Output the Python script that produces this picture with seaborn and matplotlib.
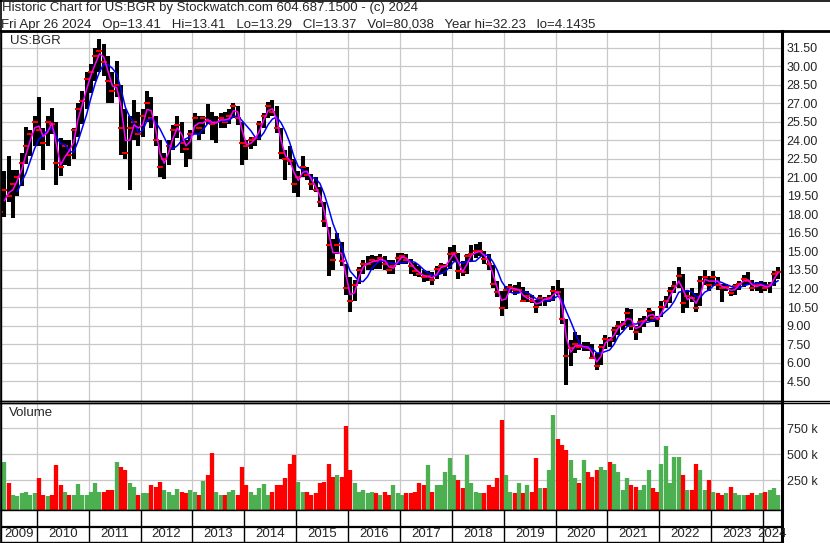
import numpy as np
import pandas as pd
import matplotlib
matplotlib.use("Agg")
import matplotlib.pyplot as plt
from matplotlib.lines import Line2D
import seaborn as sns

# ── Monthly OHLC (Apr 2009 .. Apr 2024) ──────────────────────────────────────
FIRST_MONTH = "2009-04"

HIGH = [
    19.6, 21.5, 22.7, 21.6, 21.6, 23.0, 25.1, 24.8, 26.0,                    # 2009
    27.5, 25.0, 26.0, 26.6, 25.5, 24.2, 24.0, 24.0, 25.0, 27.0, 28.0, 29.5,  # 2010
    30.2, 31.5, 32.2, 31.8, 30.8, 29.5, 30.4, 28.5, 26.5, 26.0, 27.3, 26.3,  # 2011
    26.5, 28.0, 27.5, 26.0, 24.0, 23.0, 24.0, 25.2, 26.0, 25.5, 24.0, 24.8,  # 2012
    26.2, 26.0, 26.0, 26.9, 26.3, 26.0, 26.2, 26.3, 26.5, 27.0, 26.8, 25.5,  # 2013
    24.0, 24.3, 24.3, 25.6, 26.2, 27.1, 27.3, 26.8, 25.0, 23.2, 23.5, 22.5,  # 2014
    21.5, 22.7, 21.8, 21.3, 21.0, 20.2, 19.0, 17.0, 16.0, 16.5, 15.8, 14.0,  # 2015
    12.9, 12.7, 13.7, 14.3, 14.6, 14.7, 14.6, 14.8, 14.6, 14.3, 14.3, 14.9,  # 2016
    14.9, 14.8, 14.4, 14.1, 13.8, 13.5, 13.4, 13.3, 13.8, 14.1, 14.0, 15.4,  # 2017
    15.5, 14.9, 14.2, 14.8, 15.5, 15.6, 15.8, 15.0, 14.8, 13.9, 12.6, 11.8,  # 2018
    12.2, 12.4, 12.3, 12.5, 12.1, 11.8, 11.5, 11.1, 11.5, 11.3, 11.5, 12.2,  # 2019
    12.7, 12.0, 9.5, 7.8, 8.5, 8.2, 7.7, 7.7, 7.5, 6.8, 7.5, 8.2,            # 2020
    8.1, 8.9, 9.4, 9.4, 10.4, 10.3, 9.0, 9.6, 9.8, 10.4, 10.2, 9.8,          # 2021
    11.0, 11.4, 12.1, 12.6, 13.7, 13.2, 11.8, 12.0, 11.6, 13.0, 13.5, 13.0,  # 2022
    13.4, 12.9, 12.4, 12.4, 12.0, 12.4, 12.6, 13.1, 13.3, 12.7, 12.5, 12.6,  # 2023
    12.5, 12.5, 13.4, 13.7,                                                  # 2024
]
LOW = [
    16.4, 17.8, 19.0, 17.7, 19.5, 20.3, 22.1, 22.7, 23.5,
    23.5, 21.6, 23.5, 24.5, 20.4, 21.1, 22.0, 21.9, 22.5, 24.3, 25.3, 26.5,
    27.8, 28.8, 29.5, 29.2, 27.0, 27.0, 27.5, 22.8, 22.5, 20.0, 24.0, 23.5,
    24.3, 25.5, 25.0, 23.5, 21.0, 20.9, 22.0, 23.2, 24.2, 23.0, 21.8, 22.5,
    24.5, 24.0, 24.5, 25.3, 24.0, 23.8, 25.0, 25.0, 25.3, 25.8, 25.2, 22.0,
    22.4, 23.3, 23.5, 24.0, 25.0, 25.8, 26.0, 24.6, 22.5, 20.8, 22.0, 19.7,
    19.4, 21.0, 20.8, 20.0, 19.8, 18.6, 17.0, 13.0, 13.5, 14.8, 13.8, 11.5,
    10.1, 11.0, 12.4, 13.2, 13.5, 13.5, 13.6, 13.6, 13.5, 13.2, 13.2, 13.9,
    14.0, 14.0, 13.2, 13.0, 12.9, 12.5, 12.6, 12.3, 12.8, 13.2, 13.0, 13.6,
    14.2, 12.8, 13.0, 13.2, 14.2, 14.5, 14.6, 14.0, 13.5, 12.0, 11.3, 9.8,
    10.3, 11.6, 11.5, 11.6, 10.9, 10.9, 10.8, 10.0, 10.6, 10.6, 10.9, 11.0,
    11.5, 9.1, 4.15, 5.7, 6.8, 7.0, 6.9, 6.9, 6.3, 5.4, 5.8, 7.1,
    7.3, 7.7, 8.2, 8.6, 9.0, 8.6, 7.8, 8.4, 8.9, 9.4, 9.3, 8.9,
    9.7, 10.4, 10.8, 11.6, 12.0, 10.0, 10.4, 10.9, 10.1, 10.6, 12.3, 11.8,
    12.2, 11.9, 10.9, 11.8, 11.4, 11.5, 11.9, 12.1, 12.3, 11.8, 11.8, 11.6,
    11.8, 11.6, 12.2, 12.8,
]
CLOSE = [
    18.2, 20.0, 19.5, 20.5, 21.0, 22.2, 23.5, 24.5, 25.5,
    24.8, 23.8, 25.5, 25.3, 22.2, 21.8, 23.5, 22.8, 24.8, 26.5, 27.2, 29.0,
    29.5, 30.8, 31.2, 30.3, 28.8, 28.0, 28.5, 25.0, 23.0, 25.0, 25.5, 24.5,
    26.0, 27.0, 25.8, 24.0, 21.8, 22.5, 23.5, 24.8, 25.2, 23.8, 23.3, 24.5,
    25.8, 25.0, 25.8, 25.6, 25.3, 25.5, 25.8, 25.5, 26.0, 26.8, 25.8, 23.8,
    23.5, 24.0, 24.2, 25.3, 26.0, 26.8, 26.3, 25.0, 23.0, 22.5, 22.3, 20.5,
    21.0, 21.8, 21.2, 20.5, 20.0, 19.0, 17.5, 15.5, 14.3, 15.5, 14.2, 12.0,
    11.0, 12.3, 13.5, 14.0, 14.0, 14.3, 14.2, 14.5, 14.0, 13.5, 13.8, 14.5,
    14.6, 14.3, 13.8, 13.4, 13.2, 12.9, 13.0, 12.7, 13.6, 13.8, 13.8, 14.8,
    14.9, 13.4, 13.3, 14.6, 14.8, 15.0, 15.0, 14.4, 14.0, 12.4, 11.7, 10.4,
    11.9, 12.1, 11.9, 11.9, 11.0, 11.4, 11.0, 10.5, 11.2, 11.1, 11.2, 11.8,
    11.7, 9.5, 6.5, 7.2, 7.5, 7.3, 7.3, 7.2, 6.4, 5.7, 7.3, 7.9,
    7.8, 8.6, 9.0, 9.1, 10.0, 9.0, 8.5, 9.3, 9.4, 10.2, 9.6, 9.5,
    10.5, 11.0, 11.8, 12.2, 13.0, 10.8, 11.4, 11.2, 10.4, 12.6, 12.9, 12.3,
    12.9, 12.3, 12.0, 12.1, 11.6, 12.2, 12.4, 12.8, 12.6, 12.0, 12.3, 12.3,
    12.0, 12.3, 13.2, 13.37,
]
VOLUME_K = [
    200, 430, 220, 110, 95, 125, 140, 110, 125,
    270, 110, 95, 110, 400, 205, 140, 110, 110, 210, 110, 110,
    140, 220, 140, 140, 155, 155, 430, 380, 350, 220, 190, 110,
    125, 125, 205, 190, 230, 155, 140, 110, 165, 140, 125, 155,
    140, 110, 245, 300, 510, 140, 110, 110, 140, 155, 110, 380,
    205, 140, 110, 173, 210, 110, 140, 205, 200, 270, 410, 490,
    235, 140, 140, 110, 125, 220, 235, 410, 285, 300, 285, 770,
    350, 220, 140, 155, 125, 140, 125, 110, 140, 110, 205, 125,
    110, 125, 125, 140, 220, 205, 400, 140, 205, 205, 330, 460,
    300, 250, 173, 490, 220, 140, 125, 125, 205, 190, 270, 830,
    300, 140, 125, 220, 125, 205, 140, 460, 173, 173, 350, 880,
    650, 590, 540, 445, 270, 220, 445, 330, 285, 350, 380, 350,
    430, 410, 330, 155, 270, 205, 190, 155, 205, 350, 173, 140,
    410, 580, 220, 470, 470, 300, 155, 155, 410, 350, 155, 250,
    140, 125, 110, 125, 190, 125, 110, 110, 110, 125, 110, 125,
    140, 155, 175, 110,
]

PRICE_TICKS = [4.5 + 1.5 * i for i in range(19)]
VOL_TICKS = [250_000, 500_000, 750_000]
VOL_LABELS = ["250 k", "500 k", "750 k"]
YEARS = list(range(2009, 2025))

HEADER_1 = "Historic Chart for US:BGR by Stockwatch.com 604.687.1500 - (c) 2024"
HEADER_2 = ("Fri Apr 26 2024   Op=13.41   Hi=13.41   Lo=13.29   Cl=13.37   "
            "Vol=80,038   Year hi=32.23   lo=4.1435")

# ── frame ─────────────────────────────────────────────────────────────────────
W, H = 830, 543
X0, X1 = 2009.31, 2024.355
GRID = "#c8c8c8"
RED, GREEN = "#ff0000", "#4cb050"

sns.set_style("white")
plt.rcParams["font.family"] = ["Liberation Sans", "DejaVu Sans"]
plt.rcParams["font.size"] = 9


def box(x0, y0, x1, y1):
    """pixel box (top-left origin) -> figure fraction rect"""
    return [x0 / W, 1 - y1 / H, (x1 - x0) / W, (y1 - y0) / H]


def hline(fig, y, x0=0, x1=W, lw=1.0):
    fig.add_artist(Line2D([x0 / W, x1 / W], [1 - y / H, 1 - y / H],
                          transform=fig.transFigure, color="black", lw=lw))


df = pd.DataFrame({"high": HIGH, "low": LOW, "close": CLOSE,
                   "volume": np.array(VOLUME_K) * 1000.0})
months = pd.period_range(FIRST_MONTH, periods=len(df), freq="M")
df["t"] = months.year + (months.month - 0.5) / 12
df["ma_fast"] = df["close"].rolling(2).mean()
df["ma_slow"] = df["close"].rolling(5).mean()
df["up"] = df["close"].diff().fillna(0) >= 0

fig = plt.figure(figsize=(W / 100, H / 100), dpi=100)
ax_p = fig.add_axes(box(1, 31, 781.5, 400.5))
ax_v = fig.add_axes(box(1, 402.5, 781.5, 509.5))
ax_d = fig.add_axes(box(1, 509.5, 781.5, 542))

# ── price panel ───────────────────────────────────────────────────────────────
ax_p.vlines(df["t"], df["low"], df["high"], color="black", lw=2.9, zorder=2)
sns.scatterplot(data=df, x="t", y="close", marker="_", color=RED, s=14,
                linewidth=1.4, ax=ax_p, zorder=3, legend=False)
sns.lineplot(data=df, x="t", y="ma_slow", color="#0000ff", lw=1.1, ax=ax_p, zorder=4)
sns.lineplot(data=df, x="t", y="ma_fast", color="#ff00ff", lw=1.1, ax=ax_p, zorder=5)

ax_p.set_xlim(X0, X1)
ax_p.set_ylim(2.93, 32.85)
ax_p.set_yticks(PRICE_TICKS)
ax_p.set_yticklabels([f"{v:.2f}" for v in PRICE_TICKS])
ax_p.set_xticks(YEARS[1:])
ax_p.yaxis.tick_right()
ax_p.tick_params(axis="y", length=0, pad=3.8, labelsize=9)
ax_p.tick_params(axis="x", length=0, labelbottom=False)
ax_p.grid(True, color=GRID, lw=0.9)
ax_p.set_axisbelow(True)
ax_p.set_xlabel("")
ax_p.set_ylabel("")
ax_p.text(9 / 780, 1 - 10.5 / 369.5, "US:BGR", transform=ax_p.transAxes,
          ha="left", va="center", fontsize=9.5)

# ── volume panel ──────────────────────────────────────────────────────────────
vol_floor = -31_000
colors = np.where(df["up"], GREEN, RED)
ax_v.vlines(df["t"], vol_floor, df["volume"], colors=colors, lw=3.1, zorder=2)
ax_v.set_xlim(X0, X1)
ax_v.set_ylim(vol_floor, 998_000)
ax_v.set_yticks(VOL_TICKS)
ax_v.set_yticklabels(VOL_LABELS)
ax_v.set_xticks(YEARS[1:])
ax_v.yaxis.tick_right()
ax_v.tick_params(axis="y", length=0, pad=3.8, labelsize=9)
ax_v.tick_params(axis="x", length=0, labelbottom=False)
ax_v.grid(True, color=GRID, lw=0.9)
ax_v.set_axisbelow(True)
ax_v.text(8 / 780, 1 - 11 / 107, "Volume", transform=ax_v.transAxes,
          ha="left", va="center", fontsize=9.5)

# ── date strip ────────────────────────────────────────────────────────────────
ax_d.set_xlim(X0, X1)
ax_d.set_ylim(0, 1)
ax_d.vlines(YEARS[1:], 0, 1, color="black", lw=1.0)
ax_d.axhline((542 - 527) / (542 - 509.5), color="black", lw=1.6)
edges = [X0] + YEARS[1:] + [X1]
for yr, a, b in zip(YEARS, edges[:-1], edges[1:]):
    ax_d.text((a + b) / 2, 0.24, str(yr), ha="center", va="center", fontsize=9.5)
ax_d.set_xticks([])
ax_d.set_yticks([])

for ax in (ax_p, ax_v, ax_d):
    for side, sp in ax.spines.items():
        sp.set_color("black")
        sp.set_linewidth(1.0)
    ax.spines["right"].set_linewidth(2.2)

# ── header and outer rules ───────────────────────────────────────────────────
fig.text(1.5 / W, 1 - 11.2 / H, HEADER_1, ha="left", va="baseline", fontsize=9.5)
fig.text(1.0 / W, 1 - 27.7 / H, HEADER_2, ha="left", va="baseline", fontsize=9.5)
hline(fig, 0.5, lw=1.2)
hline(fig, 31, lw=2.0)
hline(fig, 400.5, lw=1.0)
hline(fig, 402.8, lw=1.0)
fig.add_artist(Line2D([0.6 / W, 0.6 / W], [0, 1], transform=fig.transFigure,
                      color="black", lw=1.2))

fig.savefig("out.png", dpi=100)
